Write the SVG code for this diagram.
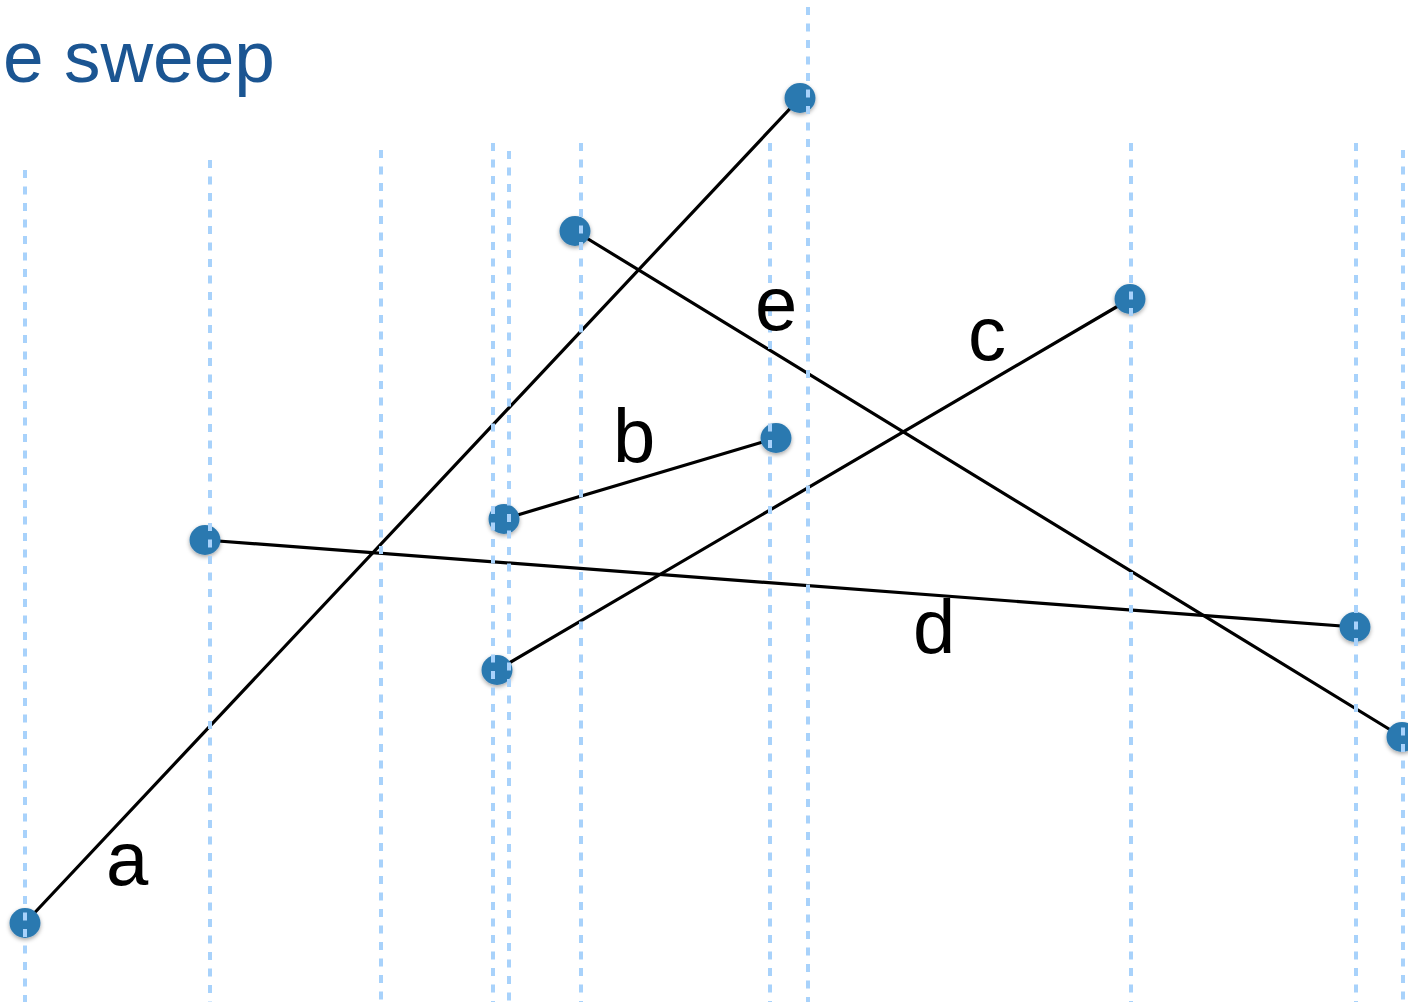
<svg xmlns="http://www.w3.org/2000/svg" width="1408" height="1002" viewBox="0 0 1408 1002">
  <defs>
    <filter id="sh" x="-50%" y="-50%" width="200%" height="200%">
      <feDropShadow dx="0" dy="2" stdDeviation="2" flood-color="#000" flood-opacity="0.35"/>
    </filter>
  </defs>
  <style>
    .seg { stroke: #000; stroke-width: 3.2; fill: none; stroke-linecap: round; }
    .pt { fill: #2c79b0; filter: url(#sh); }
    .sweep { stroke: #a8d2fb; stroke-width: 4; stroke-dasharray: 8 8.5; fill: none; }
    .lbl { font-family: "Liberation Sans", Arial, sans-serif; font-size: 76px; fill: #000; }
    .title { font-family: "Liberation Sans", Arial, sans-serif; font-size: 73px; fill: #1b5592; }
  </style>
  <rect width="1408" height="1002" fill="#fff"/>
  <text class="title" x="3" y="82">e sweep</text>

  <g id="connectors">
    <line id="seg-a" class="seg" x1="25" y1="923" x2="800" y2="98"/>
    <line id="seg-e" class="seg" x1="575" y1="231" x2="1402" y2="737"/>
    <line id="seg-c" class="seg" x1="497" y1="670" x2="1130" y2="299"/>
    <line id="seg-b" class="seg" x1="504" y1="519" x2="776" y2="438"/>
    <line id="seg-d" class="seg" x1="205" y1="540" x2="1355" y2="627"/>
  </g>

  <g id="nodes">
    <g id="a1"><ellipse class="pt" cx="25" cy="923" rx="15.5" ry="15"/></g>
    <g id="a2"><ellipse class="pt" cx="800" cy="98" rx="15.5" ry="15"/></g>
    <g id="e1"><ellipse class="pt" cx="575" cy="231" rx="15.5" ry="15"/></g>
    <g id="e2"><ellipse class="pt" cx="1402" cy="737" rx="15.5" ry="15"/></g>
    <g id="c1"><ellipse class="pt" cx="497" cy="670" rx="15.5" ry="15"/></g>
    <g id="c2"><ellipse class="pt" cx="1130" cy="299" rx="15.5" ry="15"/></g>
    <g id="b1"><ellipse class="pt" cx="504" cy="519" rx="15.5" ry="15"/></g>
    <g id="b2"><ellipse class="pt" cx="776" cy="438" rx="15.5" ry="15"/></g>
    <g id="d1"><ellipse class="pt" cx="205" cy="540" rx="15.5" ry="15"/></g>
    <g id="d2"><ellipse class="pt" cx="1355" cy="627" rx="15.5" ry="15"/></g>
  </g>

  <g id="sweep-lines">
    <line class="sweep" x1="25" y1="170" x2="25" y2="1002"/>
    <line class="sweep" x1="210" y1="160" x2="210" y2="1002"/>
    <line class="sweep" x1="381" y1="150" x2="381" y2="1002"/>
    <line class="sweep" x1="493" y1="143" x2="493" y2="1002"/>
    <line class="sweep" x1="509" y1="151" x2="509" y2="1002"/>
    <line class="sweep" x1="581" y1="143" x2="581" y2="1002"/>
    <line class="sweep" x1="770" y1="143" x2="770" y2="1002"/>
    <line class="sweep" x1="808" y1="7" x2="808" y2="1002"/>
    <line class="sweep" x1="1131" y1="143" x2="1131" y2="1002"/>
    <line class="sweep" x1="1356" y1="143" x2="1356" y2="1002"/>
    <line class="sweep" x1="1403" y1="150" x2="1403" y2="1002"/>
  </g>

  <g id="labels">
    <text class="lbl" x="106" y="885">a</text>
    <text class="lbl" x="613" y="462">b</text>
    <text class="lbl" x="755" y="330">e</text>
    <text class="lbl" x="968" y="360">c</text>
    <text class="lbl" x="913" y="653">d</text>
  </g>
</svg>
